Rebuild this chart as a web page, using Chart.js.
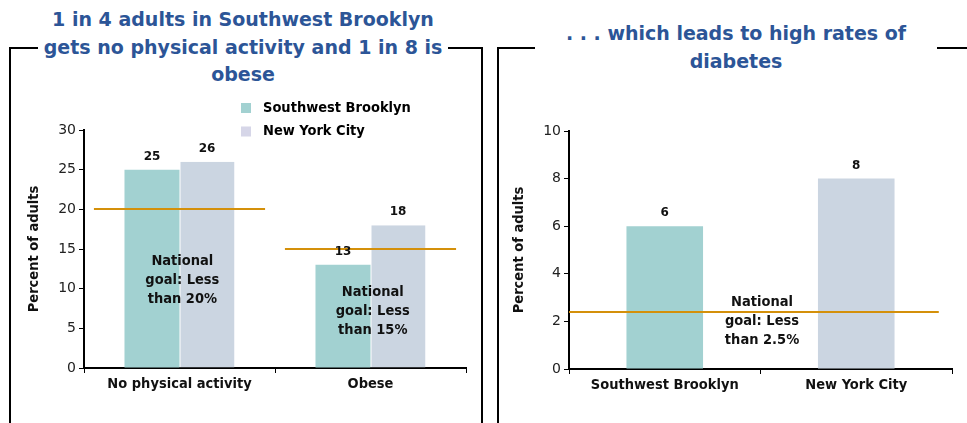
<!DOCTYPE html>
<html><head><meta charset="utf-8">
<script src="https://cdn.jsdelivr.net/npm/chart.js@4/dist/chart.umd.min.js"></script>
<style>
html,body{margin:0;padding:0;background:#fff;width:967px;height:423px;overflow:hidden;font-family:"DejaVu Sans",sans-serif;}
.frame{position:absolute;border:2px solid #000;border-bottom:none;}
.title{position:absolute;background:#fff;color:#2c5597;font-weight:bold;font-size:19px;text-align:center;white-space:nowrap;}
.holder{position:absolute;top:0;}
</style></head><body>
<div class="frame" style="left:9px;top:47px;width:470px;height:400px"></div>
<div class="title" style="left:38px;top:6px;width:410px;line-height:27.5px;">1 in 4 adults in Southwest Brooklyn<br>gets no physical activity and 1 in 8 is<br>obese</div>
<div class="frame" style="left:497px;top:47px;width:480px;height:400px"></div>
<div class="title" style="left:535px;top:19px;width:402px;line-height:28px;">. . . which leads to high rates of<br>diabetes</div>
<div class="holder" style="left:0;width:490px;height:423px"><canvas id="c1" width="490" height="423"></canvas></div>
<div class="holder" style="left:490px;width:477px;height:423px"><canvas id="c2" width="477" height="423"></canvas></div>
<script>
// ---- data ----
const categories1 = ['No physical activity', 'Obese'];
const seriesNames = ['Southwest Brooklyn', 'New York City'];
const swBrooklyn1 = [25, 13];
const nyc1 = [26, 18];
const goals1 = [20, 15];
const goalText1 = [['National', 'goal: Less', 'than 20%'], ['National', 'goal: Less', 'than 15%']];
const yTicks1 = [0, 5, 10, 15, 20, 25, 30];

const categories2 = ['Southwest Brooklyn', 'New York City'];
const diabetes2 = [6, 8];
const goal2 = 2.4;
const goalText2 = ['National', 'goal: Less', 'than 2.5%'];
const yTicks2 = [0, 2, 4, 6, 8, 10];

// ---- styles ----
const TEAL = '#a2d1d1';
const GREY = '#cbd5e1';
const LEG_GREY = '#d6d6e8';
const GOLD = '#d4900a';
const FONT = '"DejaVu Sans", sans-serif';
const CFONT = '"DejaVu Sans Condensed", "DejaVu Sans", sans-serif';

const goalLines = {
  id: 'goalLines',
  afterDatasetsDraw(chart, args, o) {
    const {ctx, scales: {x, y}, chartArea} = chart;
    ctx.save();
    ctx.strokeStyle = o.color; ctx.lineWidth = o.width;
    o.lines.forEach(l => {
      const py = Math.round(y.getPixelForValue(l.value));
      const x0 = l.from === null ? chartArea.left : x.getPixelForValue(l.from);
      const x1 = x.getPixelForValue(l.to);
      ctx.beginPath(); ctx.moveTo(x0, py); ctx.lineTo(x1, py); ctx.stroke();
    });
    ctx.restore();
  }
};
const notes = {
  id: 'notes',
  afterDatasetsDraw(chart, args, o) {
    const {ctx, scales: {x, y}} = chart;
    ctx.save();
    ctx.font = o.font; ctx.fillStyle = o.color; ctx.textAlign = 'center'; ctx.textBaseline = 'middle';
    o.items.forEach(it => {
      const px = x.getPixelForValue(it.x), py = y.getPixelForValue(it.y);
      it.lines.forEach((t, k) => ctx.fillText(t, px, py + k * o.lineHeight));
    });
    ctx.restore();
  }
};
const valueLabels = {
  id: 'valueLabels',
  afterDatasetsDraw(chart, args, o) {
    const ctx = chart.ctx;
    ctx.save();
    ctx.font = o.font; ctx.fillStyle = o.color; ctx.textAlign = 'center'; ctx.textBaseline = 'middle';
    chart.data.datasets.forEach((ds, di) => {
      chart.getDatasetMeta(di).data.forEach((el, i) => ctx.fillText(String(ds.data[i]), el.x, el.y - o.offset));
    });
    ctx.restore();
  }
};
const boxLegend = {
  id: 'boxLegend',
  afterDraw(chart, args, o) {
    if (!o.show) return;
    const ctx = chart.ctx;
    ctx.save();
    ctx.font = o.font; ctx.textBaseline = 'middle'; ctx.textAlign = 'left';
    chart.data.datasets.forEach((ds, i) => {
      const yy = o.y + i * o.gap;
      ctx.fillStyle = o.colors[i];
      ctx.fillRect(o.x, yy - 5, 10, 10);
      ctx.fillStyle = '#000';
      ctx.fillText(ds.label, o.x + 22, yy);
    });
    ctx.restore();
  }
};

function scales(yMax, step, yWidth, xHeight, titlePad) {
  return {
    x: {
      afterFit(s) { s.height = xHeight; },
      border: {color: '#000', width: 2},
      grid: {drawOnChartArea: false, drawTicks: true, tickLength: 5, color: '#000', lineWidth: 1, offset: true},
      ticks: {color: '#111', font: {family: CFONT, size: 14.5, weight: 'bold'}, padding: 3, maxRotation: 0, autoSkip: false}
    },
    y: {
      min: 0, max: yMax,
      afterFit(s) { s.width = yWidth; },
      border: {color: '#000', width: 2},
      grid: {drawOnChartArea: false, drawTicks: true, tickLength: 5, color: '#000', lineWidth: 1},
      ticks: {stepSize: step, color: '#222', font: {family: FONT, size: 14}, padding: 3},
      title: {display: true, text: 'Percent of adults', color: '#111', font: {family: CFONT, size: 14.5, weight: 'bold'}, padding: {top: titlePad, bottom: 0}}
    }
  };
}

new Chart(document.getElementById('c1'), {
  type: 'bar',
  data: {
    labels: categories1,
    datasets: [
      {label: seriesNames[0], data: swBrooklyn1, backgroundColor: TEAL, categoryPercentage: 0.576, barPercentage: 1},
      {label: seriesNames[1], data: nyc1, backgroundColor: GREY, borderColor: '#fff', borderWidth: {left: 1, top: 0, right: 0, bottom: 0}, borderSkipped: false, categoryPercentage: 0.576, barPercentage: 1}
    ]
  },
  options: {
    responsive: false, animation: false, devicePixelRatio: 1,
    layout: {padding: {left: 0, top: 130, right: 24, bottom: 0}},
    scales: scales(yTicks1[yTicks1.length - 1], yTicks1[1] - yTicks1[0], 84, 55, 26),
    plugins: {
      legend: {display: false}, tooltip: {enabled: false},
      goalLines: {color: GOLD, width: 2, lines: goals1.map((v, i) => ({value: v, from: i - 0.448, to: i + 0.448}))},
      notes: {font: 'bold 14.5px ' + CFONT, color: '#111', lineHeight: 19, items: [
        {x: 0.015, y: 13.4, lines: goalText1[0]},
        {x: 1.012, y: 9.6, lines: goalText1[1]}
      ]},
      valueLabels: {font: 'bold 12px ' + FONT, color: '#111', offset: 13},
      boxLegend: {show: true, x: 241, y: 108, gap: 23.5, font: 'bold 14.5px ' + CFONT, colors: [TEAL, LEG_GREY]}
    }
  },
  plugins: [goalLines, notes, valueLabels, boxLegend]
});

new Chart(document.getElementById('c2'), {
  type: 'bar',
  data: {
    labels: categories2,
    datasets: [
      {label: 'Diabetes', data: diabetes2, backgroundColor: [TEAL, GREY], categoryPercentage: 1, barPercentage: 0.4}
    ]
  },
  options: {
    responsive: false, animation: false, devicePixelRatio: 1,
    layout: {padding: {left: 0, top: 131, right: 15, bottom: 0}},
    scales: scales(yTicks2[yTicks2.length - 1], yTicks2[1] - yTicks2[0], 79, 54, 21),
    plugins: {
      legend: {display: false}, tooltip: {enabled: false},
      goalLines: {color: GOLD, width: 2, lines: [{value: goal2, from: null, to: 1.431}]},
      notes: {font: 'bold 14.5px ' + CFONT, color: '#111', lineHeight: 19, items: [
        {x: 0.508, y: 2.82, lines: goalText2}
      ]},
      valueLabels: {font: 'bold 12px ' + FONT, color: '#111', offset: 13},
      boxLegend: {show: false}
    }
  },
  plugins: [goalLines, notes, valueLabels, boxLegend]
});
</script>
</body></html>
